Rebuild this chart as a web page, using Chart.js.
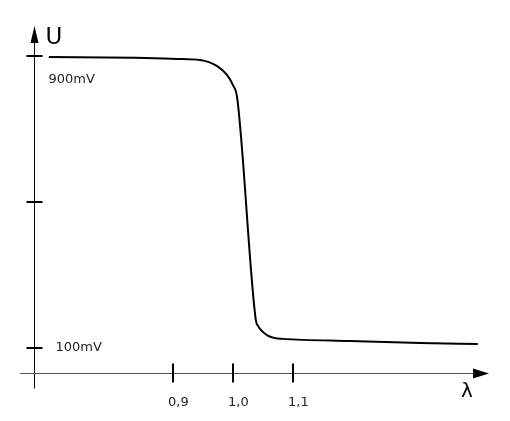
<!DOCTYPE html>
<html>
<head>
<meta charset="utf-8">
<script src="https://cdn.jsdelivr.net/npm/chart.js@4.4.0/dist/chart.umd.min.js"></script>
<style>
  html, body { margin: 0; padding: 0; background: #fff; }
  #wrap { width: 510px; height: 421px; }
</style>
</head>
<body>
<div id="wrap"><canvas id="lambdaChart" width="510" height="421"></canvas></div>
<script>
// Courbe de la sonde lambda : tension U (mV) en fonction de lambda
const lambdaValues = [0.693, 0.837, 0.907, 0.945, 0.973, 0.990, 1.000, 1.007, 1.038, 1.042, 1.048, 1.058, 1.070, 1.083, 1.195, 1.312, 1.408];
const voltageMv    = [897,   895,   892,   889,   873,   848,   820,   785,   177,   160,   147,   134,   127,   125,   119,   114,   111];

// graduations
const xTickValues = [0.9, 1.0, 1.1];
const xTickLabels = ['0,9', '1,0', '1,1'];
const yTickValues = [900, 500, 100];
const yTickLabels = ['900mV', '', '100mV'];
const yAxisTitle = 'U';
const xAxisTitle = 'λ';

// position des axes (en unités des données)
const yAxisAtLambda = 0.668;
const xAxisAtMv = 31.5;

const FONT = '"DejaVu Sans", Verdana, sans-serif';

// Dessin des axes "à la main" avec flèches, graduations et libellés
const axesPlugin = {
    id: 'arrowAxes',
    afterDraw(chart) {
        const c = chart.ctx;
        const xs = chart.scales.x;
        const ys = chart.scales.y;
        const ax = Math.round(xs.getPixelForValue(yAxisAtLambda)) + 0.5;
        const ay = Math.round(ys.getPixelForValue(xAxisAtMv)) + 0.5;

        c.save();
        c.strokeStyle = '#000';
        c.fillStyle = '#000';

        // axe vertical
        c.lineWidth = 1;
        c.beginPath();
        c.moveTo(ax, 40);
        c.lineTo(ax, ay + 15);
        c.stroke();
        // fleche haut
        c.beginPath();
        c.moveTo(ax, 26);
        c.lineTo(ax - 4, 43);
        c.lineTo(ax + 4, 43);
        c.closePath();
        c.fill();

        // axe horizontal
        c.strokeStyle = '#555';
        c.beginPath();
        c.moveTo(20, ay);
        c.lineTo(475, ay);
        c.stroke();
        c.beginPath();
        c.moveTo(489, ay);
        c.lineTo(473, ay - 5);
        c.lineTo(473, ay + 5);
        c.closePath();
        c.fill();

        c.strokeStyle = '#000';
        c.lineWidth = 2;
        c.font = '13px ' + FONT;
        c.textBaseline = 'alphabetic';
        c.fillStyle = '#222';

        // graduations x
        xTickValues.forEach((v, i) => {
            const px = Math.round(xs.getPixelForValue(v));
            c.beginPath();
            c.moveTo(px, ay - 10);
            c.lineTo(px, ay + 9);
            c.stroke();
            c.textAlign = 'left';
            c.fillText(xTickLabels[i], px - 5, 406);
        });

        // graduations y
        const yLabelOffsets = [[14, 27], [0, 0], [21, 3]];
        yTickValues.forEach((v, i) => {
            const py = Math.round(ys.getPixelForValue(v));
            c.beginPath();
            c.moveTo(ax - 8, py);
            c.lineTo(ax + 8, py);
            c.stroke();
            if (yTickLabels[i]) {
                c.textAlign = 'left';
                c.fillText(yTickLabels[i], ax + yLabelOffsets[i][0], py + yLabelOffsets[i][1]);
            }
        });

        // titres des axes
        c.fillStyle = '#000';
        c.font = '23px ' + FONT;
        c.fillText(yAxisTitle, ax + 11, 44);
        c.font = '20px ' + FONT;
        c.fillText(xAxisTitle, 461, 397);
        c.restore();
    }
};

const ctx = document.getElementById('lambdaChart');
new Chart(ctx, {
    type: 'line',
    data: {
        labels: lambdaValues,
        datasets: [{
            data: lambdaValues.map((l, i) => ({ x: l, y: voltageMv[i] })),
            borderColor: '#000',
            borderWidth: 2,
            pointRadius: 0,
            cubicInterpolationMode: 'monotone',
            fill: false
        }]
    },
    options: {
        responsive: false,
        animation: false,
        layout: { padding: { left: 23, right: 7, top: 26.8, bottom: 36.5 } },
        scales: {
            x: { type: 'linear', min: 0.65, max: 1.45, display: false },
            y: { type: 'linear', min: 0, max: 980, display: false }
        },
        plugins: {
            legend: { display: false },
            tooltip: { enabled: false }
        }
    },
    plugins: [axesPlugin]
});
</script>
</body>
</html>
